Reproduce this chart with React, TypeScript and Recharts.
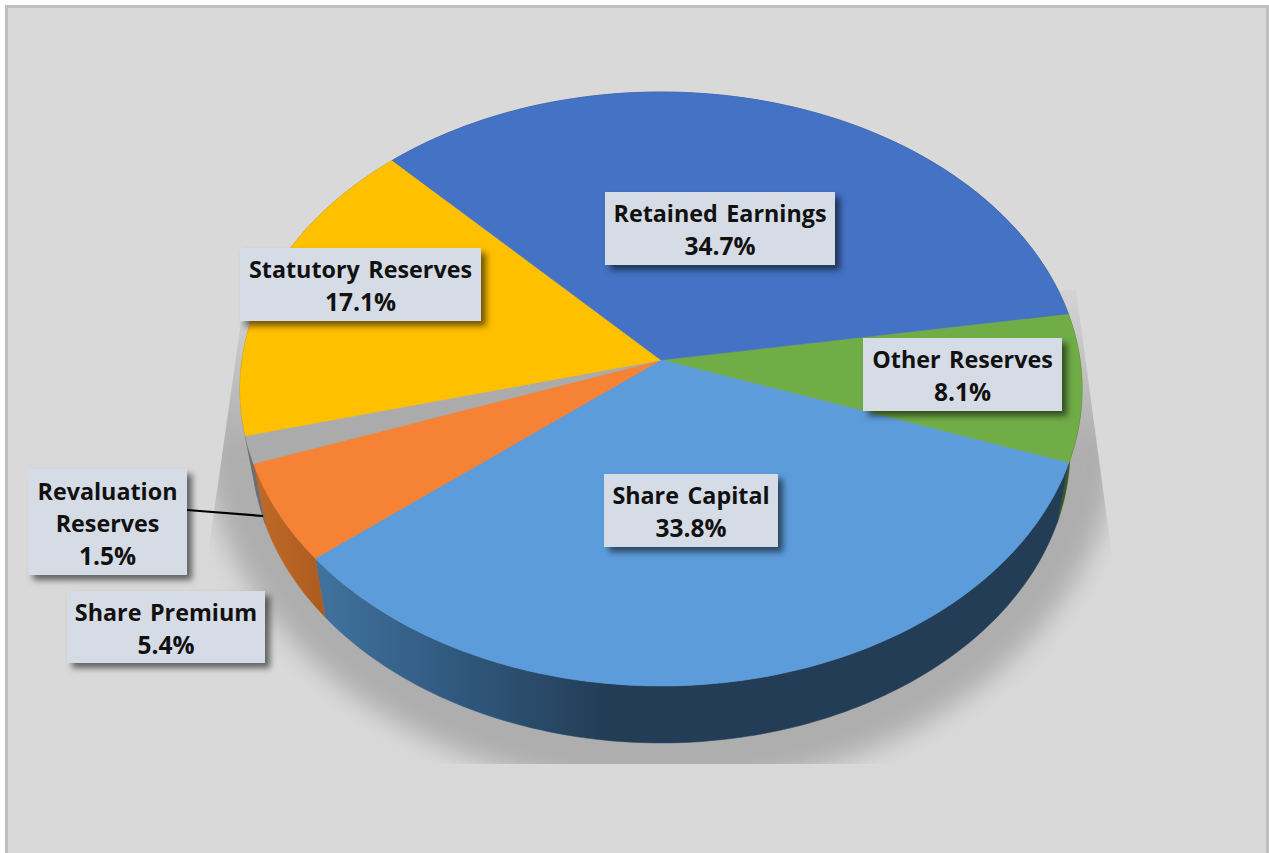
import { PieChart, Pie } from "recharts";

const categories = ["Other Reserves", "Share Capital", "Share Premium", "Revaluation Reserves", "Statutory Reserves", "Retained Earnings"];
const shares = [8.1, 33.8, 5.4, 1.5, 17.1, 34.7];

const topColors = ["#70ad47", "#5d9cdb", "#f58235", "#ababab", "#ffc000", "#4472c4"];
const wallColors = ["#3b5a1f", "url(#blueWall)", "url(#orangeWall)", "#6e6e6e", "#6e6e6e", "#2a4476"];

// label boxes in page pixels: left, top, right, bottom
const labelBoxes = [
  { x1: 863, y1: 338, x2: 1062, y2: 411, wrap: false },
  { x1: 604, y1: 474, x2: 778, y2: 547, wrap: false },
  { x1: 67, y1: 591, x2: 265, y2: 663, wrap: false },
  { x1: 28, y1: 469, x2: 187, y2: 575, wrap: true },
  { x1: 240, y1: 248, x2: 481, y2: 321, wrap: false },
  { x1: 605, y1: 192, x2: 835, y2: 265, wrap: false },
];

const data = categories.map((name, i) => ({ name, value: shares[i] }));

// perspective tilt of the disc, the pie centre sits above the ellipse centre
const TILT = 0.0976;
const FLATTEN = 0.702;
// lower rim is the upper rim scaled and moved down
const ELLIPSE_CY = 389;
const RIM_CY = 450;
const RIM_SX = 409 / 421;
const RIM_SY = 293 / 297;

function project(cx: number, cy: number, r: number, deg: number) {
  const a = (deg * Math.PI) / 180;
  const w = 1 + TILT * Math.sin(a);
  return { x: cx + (r * Math.cos(a)) / w, y: cy - (r * FLATTEN * Math.sin(a)) / w };
}

function arc(props: any) {
  const { cx, cy, outerRadius, startAngle, endAngle } = props;
  const steps = Math.max(2, Math.ceil(Math.abs(endAngle - startAngle)));
  const pts = [];
  for (let i = 0; i <= steps; i++) {
    pts.push(project(cx, cy, outerRadius, startAngle + ((endAngle - startAngle) * i) / steps));
  }
  return pts;
}

const toPath = (pts: { x: number; y: number }[]) =>
  pts.map((p, i) => `${i ? "L" : "M"}${p.x.toFixed(1)} ${p.y.toFixed(1)}`).join(" ");

function TopFace(props: any) {
  const color = topColors[props.index];
  const d = `M${props.cx} ${props.cy} ${toPath(arc(props)).replace("M", "L")} Z`;
  return <path d={d} fill={color} stroke={color} strokeWidth={0.6} />;
}

function Wall(props: any) {
  const top = arc(props);
  const lower = top
    .map((p) => ({ x: props.cx + (p.x - props.cx) * RIM_SX, y: RIM_CY + (p.y - ELLIPSE_CY) * RIM_SY }))
    .reverse();
  const color = wallColors[props.index];
  return <path d={`${toPath(top)} ${toPath(lower).replace("M", "L")} Z`} fill={color} stroke={color} strokeWidth={0.5} />;
}

function BoxLabel(props: any) {
  const box = labelBoxes[props.index];
  const mid = (box.x1 + box.x2) / 2;
  const lines = box.wrap ? [...props.name.split(" ")] : [props.name];
  lines.push(`${props.value.toFixed(1)}%`);
  const firstY = (box.y1 + box.y2) / 2 - ((lines.length - 1) * 32.5) / 2 + 1;
  return (
    <g>
      {box.wrap && <line x1={box.x2} y1={510} x2={263} y2={516} stroke="#000" strokeWidth={2.2} />}
      <rect
        x={box.x1}
        y={box.y1}
        width={box.x2 - box.x1}
        height={box.y2 - box.y1}
        fill="#d6dce5"
        style={{ filter: "drop-shadow(5px 5px 3px rgba(0,0,0,0.55))" }}
      />
      {lines.map((t: string, i: number) => (
        <text
          key={i}
          x={mid}
          y={firstY + i * 32.5}
          textAnchor="middle"
          dominantBaseline="central"
          fontFamily="'Open Sans', sans-serif"
          fontWeight={700}
          fontSize={i === lines.length - 1 ? 24.5 : 23.3}
          wordSpacing={2.5}
          fill="#111"
        >
          {t}
        </text>
      ))}
    </g>
  );
}

export default function App() {
  return (
    <div style={{ position: "absolute", left: 0, top: 0, width: 1269, height: 853, background: "#fff", overflow: "hidden" }}>
      <div
        style={{
          position: "absolute",
          left: 5,
          top: 5,
          width: 1258,
          height: 848,
          background: "#d9d9d9",
          borderLeft: "3px solid #bfbfbf",
          borderTop: "3px solid #bfbfbf",
          borderRight: "3px solid #bfbfbf",
        }}
      />
      <div style={{ position: "absolute", left: 0, top: 0 }}>
        <PieChart width={1269} height={853} margin={{ top: 0, right: 0, bottom: 0, left: 0 }}>
          <defs>
            <linearGradient id="blueWall" gradientUnits="userSpaceOnUse" x1={315} y1={0} x2={610} y2={0}>
              <stop offset="0" stopColor="#41739f" />
              <stop offset="0.45" stopColor="#315a80" />
              <stop offset="1" stopColor="#223d55" />
            </linearGradient>
            <linearGradient id="orangeWall" gradientUnits="userSpaceOnUse" x1={255} y1={0} x2={320} y2={0}>
              <stop offset="0" stopColor="#c06a26" />
              <stop offset="1" stopColor="#ad5c20" />
            </linearGradient>
            <linearGradient id="shadowFade" gradientUnits="userSpaceOnUse" x1={0} y1={285} x2={0} y2={450}>
              <stop offset="0" stopColor="#aeaeae" stopOpacity={0.1} />
              <stop offset="1" stopColor="#aeaeae" stopOpacity={1} />
            </linearGradient>
            <filter id="soft" x="-10%" y="-10%" width="120%" height="120%">
              <feGaussianBlur stdDeviation={13} />
            </filter>
            <clipPath id="shadowClip">
              <polygon points="241,322 205,575 205,764 1125,764 1118,600 1076,290" />
            </clipPath>
          </defs>
          <g clipPath="url(#shadowClip)">
            <ellipse cx={661} cy={420} rx={460} ry={370} fill="url(#shadowFade)" filter="url(#soft)" />
          </g>
          <Pie
            data={data}
            dataKey="value"
            cx={661}
            cy={360}
            outerRadius={419}
            startAngle={9.2}
            endAngle={-350.8}
            shape={Wall}
            isAnimationActive={false}
          />
          <Pie
            data={data}
            dataKey="value"
            cx={661}
            cy={360}
            outerRadius={419}
            startAngle={9.2}
            endAngle={-350.8}
            shape={TopFace}
            label={BoxLabel}
            labelLine={false}
            isAnimationActive={false}
          />
        </PieChart>
      </div>
    </div>
  );
}
